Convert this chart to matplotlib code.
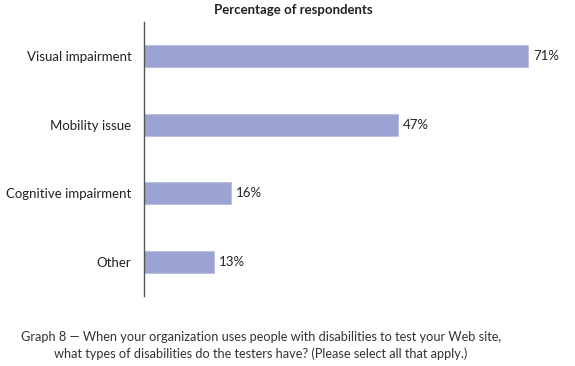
import matplotlib
matplotlib.use('Agg')
import matplotlib.pyplot as plt

categories = ['Visual impairment', 'Mobility issue', 'Cognitive impairment', 'Other']
values = [71, 47, 16, 13]
value_labels = ['71%', '47%', '16%', '13%']

plt.rcParams['font.family'] = ['Lato', 'DejaVu Sans']

fig = plt.figure(figsize=(5.75, 3.66), dpi=100)
ax = fig.add_axes([0.2504, 0.191, 0.753, 0.749])

bar_color = '#9ba3d3'
text_color = '#222222'

ypos = range(len(categories))
ax.barh(ypos, values, height=0.32, color=bar_color, edgecolor='#b8bee0', linewidth=0.6)
ax.set_ylim(3.5, -0.5)
ax.set_xlim(0, 80)

for y, v, lab in zip(ypos, values, value_labels):
    ax.text(v + 0.9, y, lab, va='center', ha='left', fontsize=9.5, color=text_color)

ax.set_yticks(list(ypos))
ax.set_yticklabels(categories, fontsize=9.5, color=text_color)
ax.tick_params(axis='y', length=0, pad=9)
ax.set_xticks([])
for s in ['top', 'right', 'bottom']:
    ax.spines[s].set_visible(False)
ax.spines['left'].set_color('#555555')
ax.spines['left'].set_linewidth(1.0)

fig.text(0.51, 0.972, 'Percentage of respondents', ha='center', va='center',
         fontsize=9.5, fontweight='bold', color=text_color)

fig.text(0.454, 0.056, 'Graph 8 \u2014 When your organization uses people with disabilities to test your Web site,\n'
         'what types of disabilities do the testers have? (Please select all that apply.)',
         ha='center', va='center', fontsize=9.15, color='#333333', linespacing=1.35)

fig.savefig('out.png', dpi=100)
